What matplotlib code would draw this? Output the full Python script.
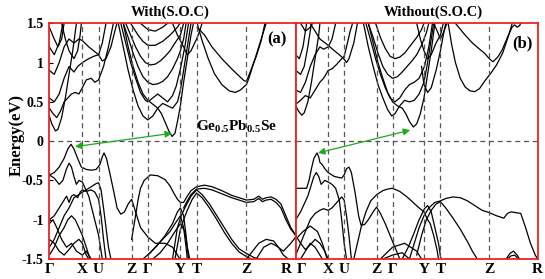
import matplotlib
matplotlib.use('Agg')
import matplotlib.pyplot as plt
from matplotlib.transforms import ScaledTranslation

plt.rcParams['font.family'] = ['Liberation Serif', 'DejaVu Serif']
plt.rcParams['font.weight'] = 'bold'
plt.rcParams['mathtext.fontset'] = 'custom'
plt.rcParams['mathtext.rm'] = 'Liberation Serif'
plt.rcParams['mathtext.bf'] = 'Liberation Serif:bold'

# high symmetry path
kpath = [0, 0.134, 0.2, 0.334, 0.4, 0.532, 0.598, 0.8, 1.0]
klabels = ['Γ', 'X', 'U', 'Z', 'Γ', 'Y', 'T', 'Z', 'R']
yticks = [-1.5, -1, -0.5, 0, 0.5, 1, 1.5]
yticklabels = ['-1.5', '-1', '-0.5', '0', '0.5', '1', '1.5']

# ---- (a) with SOC : bands as (k, E) ----
soc_valence = [
    [(0,-0.43),(0.02,-0.4),(0.04,-0.33),(0.06,-0.22),(0.075,-0.1),(0.088,-0.04),(0.1,-0.1),
     (0.115,-0.22),(0.13,-0.33),(0.15,-0.36),(0.17,-0.37),(0.19,-0.36),(0.205,-0.3),(0.215,-0.2),
     (0.222,-0.15),(0.232,-0.22),(0.245,-0.4),(0.26,-0.62),(0.275,-0.85),(0.29,-0.93),(0.305,-0.9),
     (0.32,-0.8),(0.334,-0.74),(0.35,-0.9),(0.37,-1.1),(0.4,-1.22),(0.43,-1.3),(0.47,-1.3),
     (0.5,-1.35),(0.53,-1.5)],
    [(0,-0.43),(0.02,-0.47),(0.04,-0.55),(0.055,-0.5),(0.07,-0.35),(0.08,-0.28),(0.09,-0.33),
     (0.1,-0.45),(0.11,-0.55),(0.12,-0.5),(0.134,-0.52),(0.16,-0.7),(0.18,-0.95),(0.2,-1.2),
     (0.215,-1.5)],
    [(0,-1.35),(0.02,-1.25),(0.04,-1.1),(0.06,-0.95),(0.08,-0.85),(0.1,-0.72),(0.12,-0.68),
     (0.134,-0.65),(0.15,-0.62),(0.17,-0.58),(0.19,-0.54),(0.2,-0.53),(0.21,-0.62),(0.22,-0.85),
     (0.23,-1.1),(0.24,-1.35),(0.25,-1.5)],
    [(0,-1.0),(0.02,-0.95),(0.04,-0.85),(0.06,-0.75),(0.07,-0.7),(0.08,-0.78),(0.09,-0.7),
     (0.1,-0.68),(0.115,-0.72),(0.125,-0.65),(0.134,-0.62),(0.15,-0.64),(0.17,-0.62),
     (0.185,-0.65),(0.2,-0.74),(0.21,-0.95),(0.22,-1.25),(0.23,-1.5)],
    [(0,-1.05),(0.015,-1.0),(0.03,-1.1),(0.05,-1.25),(0.07,-1.35),(0.09,-1.3),(0.11,-1.4),
     (0.134,-1.45),(0.15,-1.4),(0.17,-1.5)],
    [(0,-1.25),(0.02,-1.3),(0.04,-1.4),(0.06,-1.45),(0.08,-1.38),(0.1,-1.3),(0.12,-1.25),
     (0.134,-1.3),(0.15,-1.45),(0.16,-1.5)],
    [(0,-1.45),(0.02,-1.35),(0.04,-1.2),(0.06,-1.1),(0.075,-1.0),(0.09,-0.95),(0.105,-1.0),
     (0.12,-1.1),(0.134,-1.2),(0.15,-1.35),(0.165,-1.5)],
    [(0.334,-1.25),(0.342,-1.1),(0.35,-0.95),(0.36,-0.75),(0.37,-0.6),(0.385,-0.5),(0.41,-0.43),
     (0.44,-0.44),(0.47,-0.49),(0.49,-0.57),(0.505,-0.66),(0.52,-0.74),(0.532,-0.78),
     (0.545,-0.78),(0.56,-0.7),(0.575,-0.63),(0.598,-0.58),(0.63,-0.56),(0.66,-0.58),
     (0.7,-0.63),(0.74,-0.69),(0.77,-0.72),(0.8,-0.75),(0.83,-0.74),(0.85,-0.7),(0.865,-0.74),
     (0.88,-0.72),(0.9,-0.71),(0.92,-0.74),(0.94,-0.8),(0.96,-0.95),(0.98,-1.1),(1.0,-1.2)],
    [(0.545,-0.85),(0.56,-0.76),(0.575,-0.68),(0.598,-0.61),(0.63,-0.6),(0.66,-0.62),
     (0.7,-0.67),(0.74,-0.72),(0.77,-0.75),(0.8,-0.78),(0.83,-0.77),(0.85,-0.73),(0.865,-0.77),
     (0.88,-0.75),(0.9,-0.74),(0.92,-0.78),(0.94,-0.85),(0.96,-1.0),(0.98,-1.12),(1.0,-1.2)],
    [(0.5,-1.5),(0.52,-1.1),(0.535,-0.95),(0.55,-0.85),(0.575,-0.7),(0.598,-0.62),(0.62,-0.68),
     (0.65,-0.8),(0.68,-0.95),(0.71,-1.1),(0.74,-1.25),(0.77,-1.37),(0.8,-1.43),(0.83,-1.48),
     (0.85,-1.5)],
    [(0.51,-1.5),(0.53,-1.15),(0.545,-1.0),(0.56,-0.88),(0.58,-0.74),(0.598,-0.66),(0.62,-0.72),
     (0.65,-0.85),(0.68,-1.0),(0.71,-1.16),(0.74,-1.3),(0.77,-1.41),(0.8,-1.47),(0.82,-1.5)],
    [(0.4,-1.45),(0.43,-1.35),(0.46,-1.25),(0.49,-1.15),(0.51,-1.05),(0.532,-0.95),
     (0.545,-1.1),(0.555,-1.35),(0.56,-1.5)],
    [(0.38,-1.5),(0.41,-1.42),(0.44,-1.32),(0.47,-1.2),(0.5,-1.05),(0.52,-0.9),(0.532,-0.85),
     (0.545,-0.95),(0.555,-1.2),(0.565,-1.5)],
    [(0.42,-1.5),(0.45,-1.42),(0.48,-1.3),(0.51,-1.15),(0.532,-1.05),(0.55,-1.15),
     (0.56,-1.35),(0.57,-1.5)],
    [(0.8,-1.5),(0.82,-1.42),(0.85,-1.3),(0.88,-1.25),(0.91,-1.27),(0.93,-1.35),(0.95,-1.45),
     (0.97,-1.5)],
    [(0.84,-1.5),(0.87,-1.35),(0.9,-1.3),(0.92,-1.33),(0.95,-1.4),(0.98,-1.3),(1.0,-1.22)],
]

soc_conduction = [
    [(0,0.32),(0.01,0.22),(0.025,0.13),(0.035,0.15),(0.05,0.3),(0.065,0.55),(0.08,0.85),
     (0.095,1.15),(0.11,1.5)],
    [(0,0.42),(0.015,0.35),(0.03,0.3),(0.045,0.38),(0.06,0.5),(0.075,0.55),(0.09,0.6),
     (0.105,0.62),(0.12,0.6),(0.134,0.68),(0.15,0.78),(0.17,0.8),(0.185,0.75),(0.2,0.78),
     (0.22,0.95),(0.24,1.2),(0.26,1.5)],
    [(0,0.55),(0.02,0.5),(0.04,0.6),(0.06,0.8),(0.08,0.95),(0.1,0.88),(0.115,0.95),
     (0.134,1.0),(0.16,1.05),(0.18,1.08),(0.2,1.1),(0.215,1.25),(0.23,1.5)],
    [(0,0.9),(0.02,0.85),(0.04,1.0),(0.06,1.2),(0.08,1.3),(0.1,1.25),(0.12,1.3),(0.134,1.28),
     (0.16,1.2),(0.18,1.15),(0.2,1.1),(0.215,1.02),(0.23,1.05),(0.25,1.2),(0.27,1.45),
     (0.275,1.5)],
    [(0,1.2),(0.02,1.1),(0.04,1.25),(0.055,1.5)],
    [(0,1.45),(0.02,1.3),(0.035,1.2),(0.05,1.3),(0.06,1.5)],
    [(0.05,1.5),(0.065,1.3),(0.08,1.15),(0.1,1.05),(0.115,1.15),(0.125,1.35),(0.13,1.5)],
    [(0.3,1.5),(0.32,1.2),(0.34,0.95),(0.36,0.75),(0.38,0.6),(0.4,0.52),(0.42,0.47),
     (0.44,0.42),(0.455,0.35),(0.47,0.24),(0.485,0.13),(0.498,0.06),(0.51,0.1),(0.52,0.25),
     (0.532,0.45),(0.545,0.75),(0.56,1.05),(0.575,1.35),(0.585,1.5)],
    [(0.28,1.5),(0.3,1.2),(0.32,0.9),(0.34,0.65),(0.36,0.45),(0.38,0.32),(0.4,0.27),
     (0.42,0.32),(0.44,0.42),(0.46,0.48),(0.48,0.45),(0.5,0.42),(0.52,0.5),(0.532,0.65),
     (0.545,0.9),(0.56,1.2),(0.575,1.5)],
    [(0.29,1.5),(0.31,1.25),(0.33,1.0),(0.35,0.8),(0.37,0.62),(0.39,0.52),(0.4,0.5),
     (0.42,0.55),(0.44,0.6),(0.46,0.55),(0.48,0.5),(0.5,0.58),(0.515,0.7),(0.532,0.92),
     (0.55,1.2),(0.565,1.5)],
    [(0.3,1.5),(0.32,1.32),(0.34,1.12),(0.36,0.95),(0.38,0.82),(0.4,0.75),(0.42,0.72),
     (0.44,0.73),(0.46,0.76),(0.48,0.82),(0.5,0.92),(0.52,1.05),(0.532,1.15),(0.545,1.3),
     (0.555,1.5)],
    [(0.31,1.5),(0.33,1.35),(0.35,1.2),(0.37,1.08),(0.39,1.0),(0.41,0.97),(0.43,0.98),
     (0.45,1.02),(0.47,1.08),(0.49,1.15),(0.51,1.25),(0.532,1.35),(0.545,1.5)],
    [(0.33,1.5),(0.36,1.35),(0.38,1.27),(0.4,1.22),(0.43,1.22),(0.46,1.27),(0.49,1.35),
     (0.52,1.45),(0.53,1.5)],
    [(0.37,1.5),(0.4,1.42),(0.43,1.4),(0.46,1.45),(0.48,1.5)],
    [(0.5,1.5),(0.52,1.35),(0.545,1.2),(0.56,1.1),(0.575,1.15),(0.59,1.25),(0.598,1.3),
     (0.61,1.4),(0.62,1.5)],
    [(0.6,1.5),(0.62,1.28),(0.645,1.05),(0.67,0.86),(0.7,0.72),(0.73,0.64),(0.755,0.62),
     (0.775,0.65),(0.8,0.72),(0.81,0.8),(0.825,0.95),(0.845,1.15),(0.865,1.35),(0.88,1.5)],
    [(0.6,1.45),(0.63,1.35),(0.66,1.2),(0.7,1.05),(0.74,0.92),(0.77,0.83),(0.79,0.77),
     (0.8,0.76),(0.805,0.8),(0.82,0.92),(0.84,1.08),(0.86,1.28),(0.875,1.5)],
]

# ---- (b) without SOC ----
nosoc_valence = [
    [(0,-0.6),(0.02,-0.6),(0.045,-0.6),(0.055,-0.5),(0.065,-0.35),(0.075,-0.22),(0.088,-0.15),
     (0.095,-0.2),(0.1,-0.27),(0.11,-0.3),(0.12,-0.35),(0.134,-0.4),(0.16,-0.45),(0.19,-0.47),
     (0.2,-0.43),(0.21,-0.35),(0.22,-0.33),(0.23,-0.4),(0.245,-0.65),(0.26,-0.95),(0.27,-1.07),
     (0.285,-1.06),(0.3,-1.0),(0.32,-0.9),(0.334,-0.84),(0.35,-0.92),(0.37,-1.05),(0.39,-1.2),
     (0.41,-1.35),(0.43,-1.5)],
    [(0,-1.0),(0.02,-0.9),(0.035,-0.8),(0.05,-0.7),(0.065,-0.55),(0.075,-0.45),(0.085,-0.4),
     (0.095,-0.45),(0.105,-0.55),(0.12,-0.5),(0.134,-0.52),(0.15,-0.55),(0.165,-0.6),
     (0.18,-0.75),(0.19,-1.0),(0.2,-1.3),(0.21,-1.5)],
    [(0,-1.45),(0.02,-1.3),(0.04,-1.15),(0.06,-1.0),(0.08,-0.92),(0.1,-0.88),(0.115,-0.86),
     (0.134,-0.88),(0.15,-0.85),(0.17,-0.78),(0.19,-0.71),(0.2,-0.75),(0.21,-0.95),
     (0.22,-1.2),(0.23,-1.5)],
    [(0,-1.25),(0.03,-1.15),(0.06,-1.08),(0.09,-1.15),(0.11,-1.3),(0.13,-1.5)],
    [(0,-1.2),(0.02,-1.3),(0.04,-1.38),(0.06,-1.32),(0.08,-1.25),(0.1,-1.3),(0.12,-1.4),
     (0.134,-1.5)],
    [(0.02,-1.5),(0.04,-1.4),(0.06,-1.3),(0.08,-1.35),(0.1,-1.45),(0.11,-1.5)],
    [(0.24,-1.5),(0.255,-1.3),(0.27,-1.1),(0.29,-0.9),(0.31,-0.76),(0.335,-0.68),(0.36,-0.63),
     (0.38,-0.61),(0.4,-0.6),(0.43,-0.64),(0.46,-0.71),(0.485,-0.78),(0.51,-0.85),(0.53,-0.9),
     (0.545,-1.0),(0.556,-1.05),(0.57,-1.2),(0.585,-1.4),(0.59,-1.5)],
    [(0.47,-1.5),(0.49,-1.3),(0.51,-1.1),(0.53,-0.95),(0.55,-0.85),(0.575,-0.78),(0.598,-0.76),
     (0.62,-0.73),(0.65,-0.71),(0.68,-0.72),(0.71,-0.76),(0.74,-0.82),(0.77,-0.88),(0.8,-0.91),
     (0.83,-0.95),(0.86,-0.98),(0.875,-0.92),(0.89,-0.9),(0.91,-0.91),(0.93,-0.92),
     (0.95,-1.1),(0.97,-1.3),(0.99,-1.45),(1.0,-1.5)],
    [(0.5,-1.45),(0.52,-1.2),(0.54,-1.0),(0.56,-0.88),(0.58,-0.8),(0.598,-0.77),(0.62,-0.85),
     (0.65,-0.98),(0.68,-1.12),(0.71,-1.28),(0.73,-1.4),(0.75,-1.5)],
    [(0.44,-1.5),(0.465,-1.35),(0.485,-1.2),(0.51,-1.0),(0.532,-0.86),(0.545,-0.82),
     (0.56,-0.9),(0.575,-1.1),(0.59,-1.3),(0.6,-1.5)],
    [(0.35,-1.5),(0.4,-1.35),(0.45,-1.3),(0.5,-1.4),(0.52,-1.5)],
    [(0.36,-1.5),(0.4,-1.45),(0.44,-1.42),(0.47,-1.5)],
    [(0.87,-1.5),(0.885,-1.43),(0.9,-1.4),(0.915,-1.45),(0.925,-1.5)],
    [(0.875,-1.5),(0.89,-1.46),(0.905,-1.45),(0.92,-1.5)],
]

nosoc_conduction = [
    [(0,0.45),(0.012,0.38),(0.025,0.33),(0.035,0.36),(0.05,0.5),(0.065,0.75),(0.08,1.05),
     (0.095,1.35),(0.1,1.5)],
    [(0,0.47),(0.02,0.52),(0.04,0.58),(0.06,0.55),(0.08,0.65),(0.1,0.75),(0.115,0.8),
     (0.125,0.85),(0.134,0.9),(0.15,0.92),(0.17,0.98),(0.19,1.05),(0.2,1.08),(0.21,1.2),
     (0.225,1.4),(0.235,1.5)],
    [(0,0.65),(0.02,0.62),(0.04,0.75),(0.06,0.95),(0.08,1.1),(0.1,1.2),(0.115,1.17),
     (0.134,1.2),(0.15,1.3),(0.165,1.5)],
    [(0,0.9),(0.02,0.85),(0.035,0.95),(0.05,1.2),(0.065,1.5)],
    [(0,1.1),(0.015,1.05),(0.03,1.2),(0.045,1.5)],
    [(0.06,1.5),(0.08,1.4),(0.1,1.3),(0.134,1.22),(0.16,1.15),(0.18,1.1),(0.198,1.05),
     (0.21,1.0),(0.22,1.05),(0.24,1.25),(0.255,1.5)],
    [(0.02,1.5),(0.04,1.4),(0.06,1.45),(0.07,1.5)],
    [(0.3,1.5),(0.32,1.25),(0.34,1.0),(0.36,0.8),(0.38,0.62),(0.4,0.5),(0.42,0.45),
     (0.44,0.42),(0.455,0.35),(0.47,0.25),(0.486,0.18),(0.5,0.22),(0.515,0.35),(0.53,0.55),
     (0.545,0.85),(0.56,1.15),(0.575,1.5)],
    [(0.28,1.5),(0.3,1.2),(0.32,0.95),(0.34,0.72),(0.36,0.55),(0.38,0.4),(0.397,0.32),
     (0.41,0.35),(0.43,0.45),(0.45,0.52),(0.47,0.5),(0.49,0.52),(0.51,0.6),(0.53,0.75),
     (0.545,1.0),(0.56,1.3),(0.57,1.5)],
    [(0.29,1.5),(0.31,1.28),(0.33,1.05),(0.35,0.85),(0.37,0.68),(0.39,0.55),(0.41,0.5),
     (0.43,0.55),(0.45,0.65),(0.47,0.72),(0.49,0.75),(0.51,0.8),(0.532,0.95),(0.55,1.2),
     (0.565,1.5)],
    [(0.3,1.5),(0.32,1.32),(0.34,1.12),(0.36,0.95),(0.38,0.85),(0.4,0.8),(0.42,0.82),
     (0.44,0.88),(0.46,0.95),(0.48,1.02),(0.5,1.1),(0.52,1.22),(0.54,1.38),(0.55,1.5)],
    [(0.33,1.5),(0.35,1.32),(0.37,1.18),(0.39,1.08),(0.41,1.05),(0.43,1.07),(0.45,1.12),
     (0.47,1.2),(0.5,1.32),(0.52,1.42),(0.53,1.5)],
    [(0.5,1.5),(0.515,1.3),(0.53,1.15),(0.545,1.05),(0.56,1.1),(0.58,1.25),(0.598,1.35),
     (0.61,1.5)],
    [(0.52,0.95),(0.53,0.72),(0.545,0.62),(0.56,0.68),(0.58,0.9),(0.598,1.15),(0.61,1.35),
     (0.62,1.5)],
    [(0.57,1.5),(0.585,1.4),(0.598,1.3),(0.61,1.38),(0.625,1.5)],
    [(0.63,1.5),(0.645,1.22),(0.66,1.0),(0.68,0.8),(0.7,0.69),(0.72,0.64),(0.74,0.63),
     (0.76,0.67),(0.78,0.76),(0.8,0.84),(0.81,0.88),(0.83,0.97),(0.855,1.12),(0.875,1.3),
     (0.895,1.5)],
    [(0.66,1.5),(0.7,1.35),(0.73,1.25),(0.76,1.17),(0.78,1.12),(0.8,1.05),(0.815,1.01),
     (0.835,1.07),(0.853,1.16),(0.875,1.32),(0.894,1.45),(0.905,1.48),(0.915,1.45),
     (0.925,1.47),(0.93,1.5)],
]

# gap arrows: (k, E) of VBM and CBM
arrow_soc = [(0.104, -0.07), (0.498, 0.10)]
arrow_nosoc = [(0.092, -0.15), (0.473, 0.14)]

fig = plt.figure(figsize=(5.45, 2.79), dpi=100)
ax1 = fig.add_axes([0.0905, 0.0717, 0.4521, 0.8448])
ax2 = fig.add_axes([0.5426, 0.0717, 0.4440, 0.8448])

panels = [
    (ax1, soc_valence + soc_conduction, arrow_soc, 'With(S.O.C)', 0.49, '(a)', (0.924, 1.29)),
    (ax2, nosoc_valence + nosoc_conduction, arrow_nosoc, 'Without(S.O.C)', 0.567, '(b)', (0.935, 1.25)),
]

for ax, bands, arr, title, tx, tag, tagpos in panels:
    for b in bands:
        ks = [p[0] for p in b]
        es = [p[1] for p in b]
        ax.plot(ks, es, color='black', lw=0.9, solid_joinstyle='round')
    for k in kpath[1:-1]:
        ax.axvline(k, color='#555555', lw=0.9, ls=(0, (4, 3)))
    ax.axhline(0, color='#555555', lw=0.9, ls=(0, (4, 3)))
    ax.annotate('', xy=arr[1], xytext=arr[0],
                arrowprops=dict(arrowstyle='<|-|>', color='#1fa81f', lw=0.9,
                                mutation_scale=10, shrinkA=0, shrinkB=0))
    ax.set_xlim(0, 1)
    ax.set_ylim(-1.5, 1.5)
    ax.set_xticks(kpath)
    ax.set_xticklabels(klabels, fontsize=11, fontweight='bold')
    ax.tick_params(axis='x', length=0, pad=3)
    for s in ax.spines.values():
        s.set_color('#ee2222')
        s.set_linewidth(1.3)
    ax.text(tx, 1.018, title, transform=ax.transAxes, ha='center', va='bottom',
            fontsize=10.5, fontweight='bold')
    ax.text(tagpos[0], tagpos[1], tag, ha='center', va='center', fontsize=12, fontweight='bold')

# separate the R | Γ labels at the shared border
lab_a = ax1.get_xticklabels()
lab_a[-1].set_transform(lab_a[-1].get_transform() + ScaledTranslation(-7 / 72, 0, fig.dpi_scale_trans))
lab_b = ax2.get_xticklabels()
lab_b[0].set_transform(lab_b[0].get_transform() + ScaledTranslation(4 / 72, 0, fig.dpi_scale_trans))

ax1.set_yticks(yticks)
ax1.set_yticklabels(yticklabels, fontsize=10, fontweight='bold')
ax1.tick_params(axis='y', direction='in', length=3, pad=4)
ax2.set_yticks([])

ax1.text(0.758, 0.18, r'$\mathbf{Ge_{0.5}Pb_{0.5}Se}$', ha='center', va='center', fontsize=11)
fig.text(0.03, 0.516, 'Energy(eV)', rotation=90, ha='center', va='center',
         fontsize=12, fontweight='bold')

fig.savefig('out.png', dpi=100)
